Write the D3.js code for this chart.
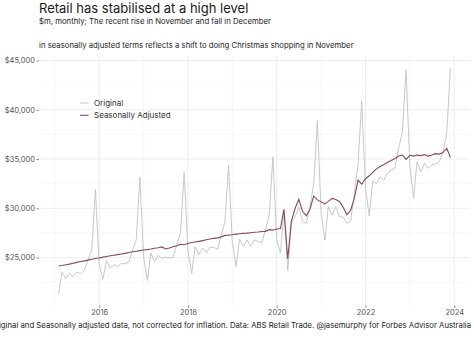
<!DOCTYPE html>
<html>
<head>
<meta charset="utf-8">
<script src="https://cdn.jsdelivr.net/npm/d3@7"></script>
<style>
  body { margin: 0; background: #fff; }
  svg { display: block; font-family: 'Inter', sans-serif; }
</style>
</head>
<body>
<div id="chart"></div>
<script>
// Monthly retail turnover, $m, starting Feb 2015
const firstMonth = '2015-02';

const original = [
  21290, 23490, 22880, 23400, 23050, 23550, 23340, 23720, 24740, 25760, 31920,
  24360, 22790, 24680, 23920, 24280, 24090, 24400, 24350, 24550, 25710, 26790, 33140,
  25040, 22650, 25470, 24590, 25220, 24910, 25040, 24970, 25000, 26330, 27540, 33650,
  25680, 23400, 26100, 25310, 25970, 25510, 26070, 26010, 25870, 27240, 28610, 34360,
  26560, 24070, 26870, 26130, 26790, 26140, 26790, 26630, 26490, 27800, 29360, 35230,
  26780, 25450, 29650, 23660, 28470, 29140, 30160, 28640, 28470, 30160, 32500, 38890,
  29490, 26780, 30160, 29320, 30160, 29140, 29100, 28470, 28700, 31500, 34500, 40900,
  32080, 29210, 32800, 32500, 33200, 32870, 33550, 33880, 34100, 36100, 37770, 44090,
  34390, 31010, 34730, 33710, 34560, 34060, 34390, 34500, 34730, 35740, 37640, 44260
];

const seasonallyAdjusted = [
  24140, 24190, 24260, 24330, 24420, 24510, 24590, 24660, 24740, 24820, 24900,
  24960, 25040, 25110, 25180, 25240, 25300, 25360, 25420, 25520, 25580, 25640, 25700,
  25760, 25800, 25860, 25940, 26000, 26080, 25870, 25960, 26100, 26200, 26350, 26300,
  26420, 26520, 26580, 26640, 26720, 26800, 26880, 26950, 27000, 27100, 27250, 27280,
  27320, 27380, 27420, 27450, 27480, 27520, 27560, 27600, 27650, 27660, 27830, 27780,
  27900, 27950, 29900, 24850, 28700, 30000, 30900, 29700, 29250, 29900, 31250, 30850,
  30650, 30450, 30700, 31000, 30900, 30700, 30100, 29350, 29800, 31000, 32850, 32450,
  33000, 33300, 33650, 34000, 34250, 34450, 34650, 34850, 35050, 35300, 35400, 34970,
  35380, 35300, 35400, 35350, 35450, 35300, 35400, 35550, 35500, 35650, 36100, 35150
];

const yTicks = [25000, 30000, 35000, 40000, 45000];
const yMinorTicks = [22500, 27500, 32500, 37500, 42500];
const xTickYears = [2016, 2018, 2020, 2022, 2024];
const xMinorYears = [2015, 2017, 2019, 2021, 2023];

const seriesNames = ['Original', 'Seasonally Adjusted'];
const seriesColors = ['#c8c8c8', '#87485b'];

const title = 'Retail has stabilised at a high level';
const subtitleLines = [
  '$m, monthly; The recent rise in November and fall in December',
  '',
  'in seasonally adjusted terms reflects a shift to doing Christmas shopping in November'
];
const caption = 'Original and Seasonally adjusted data, not corrected for inflation. Data: ABS Retail Trade. @jasemurphy for Forbes Advisor Australia';

const width = 474, height = 338;
const margin = { top: 56.5, right: 4, bottom: 32.6, left: 39 };

const parseMonth = d3.timeParse('%Y-%m');
const months = original.map((_, i) => d3.timeMonth.offset(parseMonth(firstMonth), i));
const rows = months.map((m, i) => ({ date: m, orig: original[i], sa: seasonallyAdjusted[i] }));

const svg = d3.select('#chart').append('svg')
  .attr('width', width)
  .attr('height', height);

// ggplot-style 5% expansion on both axes
const [d0, d1] = d3.extent(months);
const xPad = (d1 - d0) * 0.05;
const x = d3.scaleTime()
  .domain([new Date(+d0 - xPad), new Date(+d1 + xPad)])
  .range([margin.left, width - margin.right]);

const [v0, v1] = d3.extent(original.concat(seasonallyAdjusted));
const yPad = (v1 - v0) * 0.05;
const y = d3.scaleLinear()
  .domain([v0 - yPad, v1 + yPad])
  .range([height - margin.bottom, margin.top]);

const yearDate = yr => new Date(yr, 0, 1);

// Grid
const grid = svg.append('g');
grid.selectAll('.hminor').data(yMinorTicks).join('line')
  .attr('x1', margin.left).attr('x2', width - margin.right)
  .attr('y1', d => y(d)).attr('y2', d => y(d))
  .attr('stroke', '#f2f2f2').attr('stroke-width', 0.6);
grid.selectAll('.vminor').data(xMinorYears).join('line')
  .attr('x1', d => x(yearDate(d))).attr('x2', d => x(yearDate(d)))
  .attr('y1', margin.top).attr('y2', height - margin.bottom)
  .attr('stroke', '#f2f2f2').attr('stroke-width', 0.6);
grid.selectAll('.hmajor').data(yTicks).join('line')
  .attr('x1', margin.left).attr('x2', width - margin.right)
  .attr('y1', d => y(d)).attr('y2', d => y(d))
  .attr('stroke', '#e8e8e8').attr('stroke-width', 0.8);
grid.selectAll('.vmajor').data(xTickYears).join('line')
  .attr('x1', d => x(yearDate(d))).attr('x2', d => x(yearDate(d)))
  .attr('y1', margin.top).attr('y2', height - margin.bottom)
  .attr('stroke', '#e8e8e8').attr('stroke-width', 0.8);

// Axes
const yAxis = svg.append('g')
  .attr('transform', `translate(${margin.left},0)`)
  .call(d3.axisLeft(y).tickValues(yTicks).tickFormat(d3.format('$,')).tickSize(2.5).tickPadding(1.5));
yAxis.select('.domain').remove();
yAxis.selectAll('line').attr('stroke', '#888');
yAxis.selectAll('text').attr('fill', '#555').attr('font-size', '7.5px').attr('font-family', 'Inter');

const xAxis = svg.append('g')
  .attr('transform', `translate(0,${height - margin.bottom})`)
  .call(d3.axisBottom(x).tickValues(xTickYears.map(yearDate)).tickFormat(d3.timeFormat('%Y')).tickSize(2.5).tickPadding(2));
xAxis.select('.domain').remove();
xAxis.selectAll('line').attr('stroke', '#888');
xAxis.selectAll('text').attr('fill', '#555').attr('font-size', '7.5px').attr('font-family', 'Inter');

// Series lines
const lineOrig = d3.line().x(d => x(d.date)).y(d => y(d.orig));
const lineSA = d3.line().x(d => x(d.date)).y(d => y(d.sa));

svg.append('path').datum(rows)
  .attr('d', lineOrig)
  .attr('fill', 'none')
  .attr('stroke', seriesColors[0])
  .attr('stroke-width', 1);

svg.append('path').datum(rows)
  .attr('d', lineSA)
  .attr('fill', 'none')
  .attr('stroke', seriesColors[1])
  .attr('stroke-width', 1.1);

// Legend
const legend = svg.append('g').attr('transform', 'translate(80,103)');
seriesNames.forEach((name, i) => {
  const g = legend.append('g').attr('transform', `translate(0,${i * 12.3})`);
  g.append('line').attr('x1', 0).attr('x2', 8.5)
    .attr('stroke', seriesColors[i]).attr('stroke-width', i ? 1.1 : 1);
  g.append('text').attr('x', 14).attr('y', 2.8)
    .attr('font-size', '8px').attr('fill', '#333').text(name);
});

// Titles
svg.append('text')
  .attr('x', 39).attr('y', 12.5)
  .attr('font-size', '13px').attr('fill', '#1a1a1a')
  .text(title);

svg.append('g').selectAll('text').data(subtitleLines).join('text')
  .attr('x', 39).attr('y', (d, i) => 24 + i * 12)
  .attr('font-size', '7.75px').attr('fill', '#222')
  .text(d => d);

svg.append('text')
  .attr('x', 471).attr('y', 328)
  .attr('text-anchor', 'end')
  .attr('font-size', '7.75px').attr('fill', '#222')
  .text(caption);
</script>
</body>
</html>
